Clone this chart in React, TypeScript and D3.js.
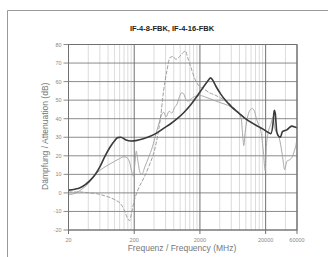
import { useEffect, useRef } from 'react';
import * as d3 from 'd3';

// Dark solid curve
const freqA = [20, 25, 30, 36, 42, 50, 60, 70, 85, 100, 112, 125, 150, 180, 220, 280, 350, 450, 560, 700, 900, 1150, 1450, 1800, 2200, 2600, 2900, 3100, 3500, 4200, 5000, 6000, 7500, 9500, 12000, 15000, 18000, 21000, 24000, 26000, 27000, 28000, 29500, 31500, 33500, 36000, 42000, 50000, 56000, 60000];
const dbA = [1.5, 2, 2.8, 4.5, 6.5, 9.5, 14, 19, 24.5, 28, 29.8, 30, 28.5, 28, 28.3, 29.3, 30.5, 32.5, 34.8, 37, 40, 43.5, 47.5, 52, 56.5, 60, 62, 61, 57.5, 53, 49.5, 46.5, 43.5, 40.5, 38, 36, 34.5, 33, 32, 38, 44.5, 43, 33, 30.5, 30, 33, 34, 36, 35.5, 35];

// Gray dashed curve
const freqB = [20, 30, 42, 55, 70, 86, 105, 125, 140, 155, 170, 182, 196, 230, 280, 340, 400, 450, 500, 560, 630, 700, 780, 860, 950, 1100, 1200, 1300, 1450, 1650, 1900, 2300, 2800, 3500, 4500, 5500, 6500, 8000, 10000, 13000, 16000, 19000, 22000, 24000];
const dbB = [0.5, 0.5, 0, -0.5, -1.5, -2.5, -4, -6, -9, -13, -15, -11, -5.5, 2, 8, 15, 22, 30, 40, 55, 66, 73, 73.5, 72, 73, 75.5, 76.5, 73, 68, 62, 58, 56, 54, 52.5, 50.5, 48.5, 46, 43, 40, 37.5, 35.5, 34, 32.5, 31.5];

// Light gray solid curve
const freqC = [20, 26, 32, 40, 48, 55, 65, 80, 100, 120, 140, 155, 170, 185, 195, 205, 215, 228, 245, 262, 290, 330, 380, 430, 480, 520, 560, 610, 680, 750, 820, 900, 980, 1050, 1130, 1200, 1300, 1450, 1650, 2000, 2500, 3200, 4200, 5500, 6500, 7500, 8500, 9000, 9300, 9700, 10500, 11500, 12500, 13500, 14500, 15500, 17000, 18500, 19700, 20500, 22000, 24000, 26000, 27500, 30000, 33000, 36000, 39000, 42000, 47000, 51000, 55000, 58000, 60000];
const dbC = [-1, 0, 2, 5, 8.5, 11, 13, 15, 17, 18.5, 19.5, 19, 16.5, 11, 9, 16, 22.5, 17, 11, 10, 14, 19, 25, 32, 38, 42, 43.5, 41, 44, 43, 46, 48, 52, 54, 53.5, 51, 49.5, 50.5, 52, 52.5, 51.5, 50, 48.5, 47, 45.5, 43.5, 40, 30, 25.5, 32, 40, 44.5, 45.5, 44, 40, 37, 33, 22, 12, 25, 33, 37, 41, 35, 32, 28, 20, 12.5, 17, 18, 19.5, 23, 26, 30];

const yTicks = [80, 70, 60, 50, 40, 30, 20, 10, 0, -10, -20];
const xTicks = [20, 200, 2000, 20000, 60000];
const decades = [20, 200, 2000, 20000];

export default function App() {
  const svgRef = useRef<SVGSVGElement>(null);
  const width = 328;
  const height = 257;

  useEffect(() => {
    const svg = d3.select(svgRef.current);
    svg.selectAll('*').remove();

    const left = 68.5, right = 297, top = 44.5, bottom = 230;
    const font = 'Liberation Sans, Arial, sans-serif';

    const x = d3.scaleLog().domain([20, 60000]).range([left, right]);
    const y = d3.scaleLinear().domain([-20, 80]).range([bottom, top]);

    // outer frame
    svg.append('path')
      .attr('d', `M7.5,${height} V10.5 H${width}`)
      .attr('fill', 'none')
      .attr('stroke', '#999')
      .attr('stroke-width', 1);

    svg.append('text')
      .attr('x', 172)
      .attr('y', 31)
      .attr('text-anchor', 'middle')
      .style('font-family', font)
      .style('font-size', '7.5px')
      .style('font-weight', 'bold')
      .style('fill', '#222')
      .text('IF-4-8-FBK, IF-4-16-FBK');

    const g = svg.append('g');

    // minor vertical grid
    const minor: number[] = [];
    decades.forEach(b => {
      for (let n = 2; n <= 9; n++) {
        if (b * n < 60000) minor.push(b * n);
      }
    });
    g.selectAll('.minor')
      .data(minor)
      .enter().append('line')
      .attr('x1', d => x(d)).attr('x2', d => x(d))
      .attr('y1', top).attr('y2', bottom)
      .attr('stroke', '#c4c4c4')
      .attr('stroke-width', 0.6);

    // horizontal grid
    g.selectAll('.hgrid')
      .data(yTicks)
      .enter().append('line')
      .attr('x1', left - 5).attr('x2', right)
      .attr('y1', d => y(d)).attr('y2', d => y(d))
      .attr('stroke', '#7e7e7e')
      .attr('stroke-width', 0.9);

    // major vertical grid
    g.selectAll('.major')
      .data(decades.concat([60000]))
      .enter().append('line')
      .attr('x1', d => x(d)).attr('x2', d => x(d))
      .attr('y1', top).attr('y2', bottom + 4)
      .attr('stroke', '#707070')
      .attr('stroke-width', 1);

    // y labels
    g.selectAll('.ylab')
      .data(yTicks)
      .enter().append('text')
      .attr('x', left - 7)
      .attr('y', d => y(d) + 2)
      .attr('text-anchor', 'end')
      .style('font-family', font)
      .style('font-size', '5.5px')
      .style('fill', '#888')
      .text(d => d);

    // x labels
    g.selectAll('.xlab')
      .data(xTicks)
      .enter().append('text')
      .attr('x', d => x(d))
      .attr('y', 242)
      .attr('text-anchor', 'middle')
      .style('font-family', font)
      .style('font-size', '5.5px')
      .style('fill', '#888')
      .text(d => d);

    // axis titles
    svg.append('text')
      .attr('transform', `translate(48,${(top + bottom) / 2 - 1}) rotate(-90)`)
      .attr('text-anchor', 'middle')
      .style('font-family', font)
      .style('font-size', '8.5px')
      .style('fill', '#777')
      .text('Dämpfung / Attenuation (dB)');

    svg.append('text')
      .attr('x', 182)
      .attr('y', 251)
      .attr('text-anchor', 'middle')
      .style('font-family', font)
      .style('font-size', '8.5px')
      .style('fill', '#777')
      .text('Frequenz / Frequency (MHz)');

    const line = d3.line<[number, number]>()
      .x(d => x(d[0]))
      .y(d => y(d[1]))
      .curve(d3.curveMonotoneX);

    const series = [
      { f: freqC, v: dbC, color: '#a0a0a0', w: 0.9, dash: null },
      { f: freqB, v: dbB, color: '#959595', w: 0.9, dash: '4,1.5' },
      { f: freqA, v: dbA, color: '#3a3a3a', w: 1.6, dash: null },
    ];
    series.forEach(s => {
      const pts = s.f.map((f, i) => [f, s.v[i]] as [number, number]);
      g.append('path')
        .attr('d', line(pts))
        .attr('fill', 'none')
        .attr('stroke', s.color)
        .attr('stroke-width', s.w)
        .attr('stroke-dasharray', s.dash)
        .attr('stroke-linejoin', 'round');
    });

    // plot frame
    g.append('rect')
      .attr('x', left).attr('y', top)
      .attr('width', right - left).attr('height', bottom - top)
      .attr('fill', 'none')
      .attr('stroke', '#707070')
      .attr('stroke-width', 1);
  }, []);

  return (
    <div style={{ position: 'absolute', left: 0, top: 0, background: '#fff' }}>
      <svg ref={svgRef} width={width} height={height} style={{ display: 'block' }} />
    </div>
  );
}
